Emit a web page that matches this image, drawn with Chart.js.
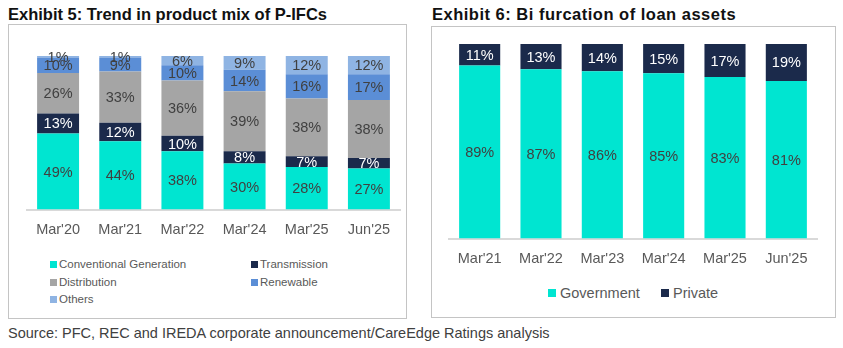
<!DOCTYPE html>
<html>
<head>
<meta charset="utf-8">
<script src="https://cdn.jsdelivr.net/npm/chart.js@4"></script>
<style>
  body { margin: 0; width: 843px; height: 348px; background: #fff; position: relative; overflow: hidden;
         font-family: "Liberation Sans", Arial, sans-serif; }
  .title { position: absolute; font-weight: bold; font-size: 16.5px; color: #111; white-space: nowrap; }
  .box { position: absolute; border: 1px solid #c4c4c4; box-sizing: border-box; }
  .cv { position: absolute; }
  .leg { position: absolute; font-size: 11.5px; color: #595959; white-space: nowrap; line-height: 14px; }
  .leg i { display: inline-block; width: 7px; height: 7px; margin-right: 2px; vertical-align: 0px; }
  .leg2 { position: absolute; font-size: 14.5px; color: #595959; white-space: nowrap; line-height: 18px; }
  .leg2 i { display: inline-block; width: 8px; height: 8px; margin-right: 4px; vertical-align: 1px; }
  .src { position: absolute; left: 8px; top: 325px; font-size: 14.5px; color: #404040; white-space: nowrap; }
</style>
</head>
<body>
<div class="title" style="left:8px; top:5px;">Exhibit 5: Trend in product mix of P-IFCs</div>
<div class="title" style="left:432px; top:5px; letter-spacing:0.5px;">Exhibit 6: Bi furcation of loan assets</div>
<div class="box" style="left:8px; top:24px; width:399px; height:295px;"></div>
<div class="box" style="left:431px; top:26px; width:405px; height:292px;"></div>
<div class="cv" style="left:8px; top:24px; width:398px; height:227px;"><canvas id="mixChart"></canvas></div>
<div class="cv" style="left:431px; top:26px; width:404px; height:254px;"><canvas id="loanChart"></canvas></div>
<div id="mixLegend"></div>
<div id="loanLegend"></div>
<div class="src">Source: PFC, REC and IREDA corporate announcement/CareEdge Ratings analysis</div>

<script>
// Exhibit 5 - product mix (%)
const mixPeriods = ["Mar'20", "Mar'21", "Mar'22", "Mar'24", "Mar'25", "Jun'25"]
const convGeneration = [49, 44, 38, 30, 28, 27]
const transmission = [13, 12, 10, 8, 7, 7]
const distribution = [26, 33, 36, 39, 38, 38]
const renewable = [10, 9, 10, 14, 16, 17]
const others = [1, 1, 6, 9, 12, 12]

// Exhibit 6 - loan assets (%)
const loanPeriods = ["Mar'21", "Mar'22", "Mar'23", "Mar'24", "Mar'25", "Jun'25"]
const government = [89, 87, 86, 85, 83, 81]
const privateSector = [11, 13, 14, 15, 17, 19]

const TEAL = "#00e5d1"
const NAVY = "#1b2a4b"
const GREY = "#a5a5a5"
const BLUE = "#5b8ed6"
const LIGHTBLUE = "#8fb4e3"

// write the value in the middle of every bar piece
const segmentLabels = {
    id: "segmentLabels",
    afterDatasetsDraw(chart) {
        const ctx = chart.ctx
        ctx.save()
        ctx.font = "14.5px 'Liberation Sans', Arial, sans-serif"
        ctx.textAlign = "center"
        ctx.textBaseline = "middle"
        chart.data.datasets.forEach((ds, i) => {
            const meta = chart.getDatasetMeta(i)
            meta.data.forEach((bar, j) => {
                const p = bar.getProps(["x", "y", "base"], true)
                ctx.fillStyle = ds.labelColor
                ctx.fillText(ds.shown[j] + "%", p.x, (p.y + p.base) / 2 + 1)
            })
        })
        ctx.restore()
    }
}

// 100% stacked: each piece as share of its column total
function asShare(values, all) {
    return values.map((v, j) => {
        let total = 0
        for (let s of all) total += s[j]
        return v / total * 100
    })
}

function makeSet(label, values, all, color, labelColor) {
    return {
        label: label,
        data: asShare(values, all),
        shown: values,
        backgroundColor: color,
        labelColor: labelColor
    }
}

function baseOptions(padding, barPct) {
    return {
        responsive: true,
        maintainAspectRatio: false,
        animation: false,
        layout: { padding: padding },
        datasets: { bar: { barPercentage: barPct, categoryPercentage: 1 } },
        plugins: { legend: { display: false }, tooltip: { enabled: false } },
        scales: {
            x: {
                stacked: true,
                grid: { display: false, drawTicks: false },
                border: { display: true, color: "#d9d9d9", width: 2 },
                ticks: { color: "#595959", font: { family: "'Liberation Sans', Arial, sans-serif", size: 14.5 }, padding: 12 }
            },
            y: { stacked: true, display: false, min: 0, max: 100 }
        }
    }
}

const mixAll = [convGeneration, transmission, distribution, renewable, others]
const mixSets = [
    makeSet("Conventional Generation", convGeneration, mixAll, TEAL, "#404040"),
    makeSet("Transmission", transmission, mixAll, NAVY, "#ffffff"),
    makeSet("Distribution", distribution, mixAll, GREY, "#404040"),
    makeSet("Renewable", renewable, mixAll, BLUE, "#404040"),
    makeSet("Others", others, mixAll, LIGHTBLUE, "#404040")
]

new Chart(document.getElementById("mixChart"), {
    type: "bar",
    data: { labels: mixPeriods, datasets: mixSets },
    options: baseOptions({ left: 19, right: 6, top: 32, bottom: 0 }, 0.675),
    plugins: [segmentLabels]
})

const loanAll = [government, privateSector]
const loanSets = [
    makeSet("Government", government, loanAll, TEAL, "#404040"),
    makeSet("Private", privateSector, loanAll, NAVY, "#ffffff")
]

new Chart(document.getElementById("loanChart"), {
    type: "bar",
    data: { labels: loanPeriods, datasets: loanSets },
    options: baseOptions({ left: 18, right: 18, top: 18, bottom: 0 }, 0.67),
    plugins: [segmentLabels]
})

// html legends built from the datasets
const mixPos = [[50, 257], [251, 257], [50, 275], [251, 275], [50, 292]]
let mixHtml = ""
mixSets.forEach((ds, i) => {
    mixHtml += `<div class="leg" style="left:${mixPos[i][0]}px; top:${mixPos[i][1]}px;"><i style="background:${ds.backgroundColor}"></i>${ds.label}</div>`
})
document.getElementById("mixLegend").innerHTML = mixHtml

const loanPos = [[548, 284], [661, 284]]
let loanHtml = ""
loanSets.forEach((ds, i) => {
    loanHtml += `<div class="leg2" style="left:${loanPos[i][0]}px; top:${loanPos[i][1]}px;"><i style="background:${ds.backgroundColor}"></i>${ds.label}</div>`
})
document.getElementById("loanLegend").innerHTML = loanHtml
</script>
</body>
</html>
